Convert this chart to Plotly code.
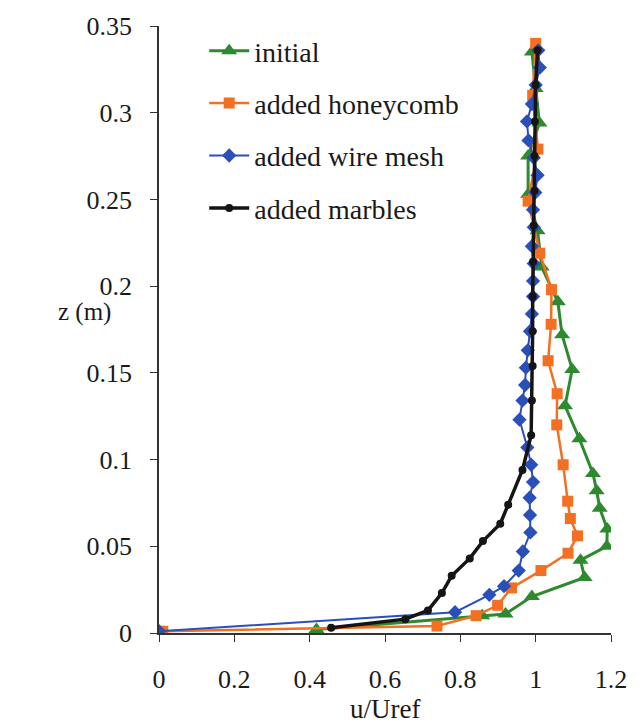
import plotly.graph_objects as go

# ---- data (u/Uref vs z) ----
initial_z = [0.002, 0.010, 0.011, 0.021, 0.032, 0.042, 0.050, 0.060, 0.072, 0.082, 0.092,
             0.112, 0.131, 0.152, 0.172, 0.191, 0.211, 0.232, 0.253, 0.275, 0.294, 0.314, 0.335]
initial_u = [0.418, 0.858, 0.92, 0.99, 1.13, 1.119, 1.189, 1.19, 1.17, 1.162, 1.152,
             1.116, 1.078, 1.097, 1.07, 1.059, 1.016, 1.005, 0.98, 0.98, 1.01, 1.0, 0.99]

honey_z = [0.001, 0.004, 0.010, 0.016, 0.026, 0.036, 0.046, 0.056, 0.066, 0.076, 0.097,
           0.120, 0.138, 0.157, 0.178, 0.198, 0.219, 0.249, 0.279, 0.310, 0.340]
honey_u = [0.01, 0.738, 0.842, 0.899, 0.936, 1.014, 1.086, 1.111, 1.092, 1.085, 1.073,
           1.056, 1.057, 1.033, 1.041, 1.042, 1.011, 0.98, 1.006, 0.992, 1.0]

mesh_z = [0.001, 0.012, 0.022, 0.027, 0.036, 0.047, 0.058, 0.068, 0.078, 0.087, 0.097,
          0.107, 0.123, 0.134, 0.143, 0.153, 0.163, 0.174, 0.184, 0.194, 0.203, 0.213,
          0.223, 0.234, 0.244, 0.254, 0.264, 0.274, 0.284, 0.295, 0.305, 0.316, 0.326, 0.336]
mesh_u = [0.0, 0.786, 0.877, 0.916, 0.955, 0.966, 0.986, 0.985, 0.984, 0.993, 0.988,
          0.978, 0.957, 0.965, 0.972, 0.974, 0.979, 0.985, 0.99, 0.993, 0.993, 0.995,
          0.99, 0.995, 0.993, 0.999, 1.005, 0.995, 0.981, 0.977, 0.99, 1.0, 1.011, 1.007]

marble_z = [0.003, 0.008, 0.013, 0.023, 0.033, 0.043, 0.053, 0.063, 0.074, 0.094, 0.114,
            0.134, 0.154, 0.174, 0.194, 0.214, 0.235, 0.255, 0.275, 0.295, 0.316, 0.336]
marble_u = [0.457, 0.654, 0.714, 0.751, 0.777, 0.825, 0.86, 0.906, 0.927, 0.965, 0.988,
            0.99, 0.992, 0.992, 0.992, 0.993, 0.995, 0.997, 0.997, 0.998, 1.0, 1.005]

series_names = ["initial", "added honeycomb", "added wire mesh", "added marbles"]

x_ticks = [0, 0.2, 0.4, 0.6, 0.8, 1, 1.2]
x_tick_text = ["0", "0.2", "0.4", "0.6", "0.8", "1", "1.2"]
y_ticks = [0, 0.05, 0.1, 0.15, 0.2, 0.25, 0.3, 0.35]
y_tick_text = ["0", "0.05", "0.1", "0.15", "0.2", "0.25", "0.3", "0.35"]

FONT = "Times New Roman, Liberation Serif, Times, serif"
TXT = "#1a1a1a"

fig = go.Figure()
styles = [
    dict(color="#2e8a2e", width=3.0, symbol="triangle-up", size=14),
    dict(color="#f36f21", width=2.5, symbol="square", size=11),
    dict(color="#2a4fb8", width=2.0, symbol="diamond", size=11),
    dict(color="#151515", width=3.5, symbol="circle", size=8),
]
data = [(initial_u, initial_z), (honey_u, honey_z), (mesh_u, mesh_z), (marble_u, marble_z)]
for i, ((u, z), st, name) in enumerate(zip(data, styles, series_names)):
    fig.add_trace(go.Scatter(
        x=u, y=z, mode="lines+markers", name=name, legendgroup=f"g{i}",
        line=dict(color=st["color"], width=st["width"]),
        marker=dict(color=st["color"], symbol=st["symbol"], size=st["size"],
                    line=dict(width=0)),
    ))

fig.update_layout(
    width=639, height=727,
    margin=dict(l=159, r=18, t=20, b=94),
    paper_bgcolor="white", plot_bgcolor="white",
    font=dict(family=FONT, size=26, color=TXT),
    showlegend=True,
    legend=dict(x=0.10, y=1.0, xanchor="left", yanchor="top",
                font=dict(family=FONT, size=28, color=TXT),
                bgcolor="rgba(0,0,0,0)", tracegroupgap=13, itemwidth=40),
    xaxis=dict(range=[0, 1.2], tickvals=x_ticks, ticktext=x_tick_text,
               showgrid=False, zeroline=False, showline=True, linecolor="#333",
               linewidth=1.5, ticks="outside", ticklen=7, tickcolor="#333",
               ticklabelstandoff=15, tickfont=dict(family=FONT, size=26, color=TXT)),
    yaxis=dict(range=[0, 0.35], tickvals=y_ticks, ticktext=y_tick_text,
               showgrid=False, zeroline=False, showline=True, linecolor="#333",
               linewidth=1.5, ticks="outside", ticklen=7, tickcolor="#333",
               ticklabelstandoff=13, tickfont=dict(family=FONT, size=26, color=TXT)),
    annotations=[
        dict(text="z (m)", x=(83 - 159) / 462, y=0.529, xref="paper", yref="paper",
             xanchor="center", yanchor="middle", showarrow=False,
             font=dict(family=FONT, size=25, color=TXT)),
        dict(text="u/Uref", x=0.5, y=-0.126, xref="paper", yref="paper",
             xanchor="center", yanchor="middle", showarrow=False,
             font=dict(family=FONT, size=27, color=TXT)),
    ],
)

fig.write_html("out.html")
